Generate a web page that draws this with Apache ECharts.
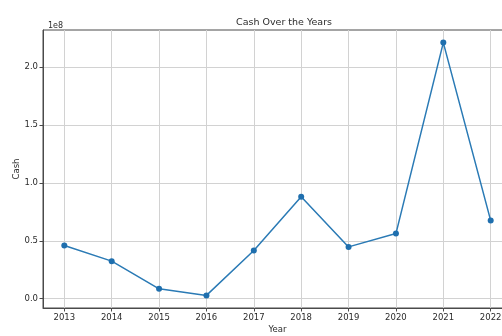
<!DOCTYPE html>
<html>
<head>
<meta charset="utf-8">
<script src="https://cdn.jsdelivr.net/npm/echarts@6/dist/echarts.min.js"></script>
<style>
  html, body { margin: 0; padding: 0; background: #fff; overflow: hidden; }
  #chart { width: 520px; height: 336px; }
</style>
</head>
<body>
<div id="chart"></div>
<script>
// Yearly cash balance
const years = [2013, 2014, 2015, 2016, 2017, 2018, 2019, 2020, 2021, 2022];
const cash = [46000000, 32500000, 8600000, 2900000, 41700000, 88200000, 44800000, 56300000, 221300000, 67500000];
const yTicks = [0, 50000000, 100000000, 150000000, 200000000];

const textColor = '#2b2b2b';
const spineColor = '#4a4a4a';
const font = 'DejaVu Sans';

const chart = echarts.init(document.getElementById('chart'), null, { renderer: 'canvas' });
chart.setOption({
  animation: false,
  backgroundColor: '#ffffff',
  title: [
    {
      text: 'Cash Over the Years',
      left: 279, top: 13, textAlign: 'center',
      textStyle: { fontFamily: font, fontSize: 9.5, fontWeight: 'normal', color: textColor }
    },
    {
      text: '1e8',
      left: 43, top: 17,
      textStyle: { fontFamily: font, fontSize: 8, fontWeight: 'normal', color: textColor }
    }
  ],
  grid: {
    left: 43, right: 8, top: 30, bottom: 28,
    outerBoundsMode: 'none', containLabel: false,
    show: true, borderColor: spineColor, borderWidth: 1, backgroundColor: 'transparent'
  },
  xAxis: {
    type: 'value',
    min: 2012.55, max: 2022.45,
    name: 'Year', nameLocation: 'middle', nameGap: 17, nameMoveOverlap: false,
    nameTextStyle: { fontFamily: font, fontSize: 8.5, color: textColor },
    axisLine: { show: true, onZero: false, lineStyle: { color: spineColor, width: 1 } },
    axisTick: { show: true, customValues: years, length: 3.5, lineStyle: { color: spineColor } },
    axisLabel: {
      customValues: years, margin: 5,
      fontFamily: font, fontSize: 8.5, color: textColor,
      formatter: v => String(Math.round(v))
    },
    splitLine: { show: true, lineStyle: { color: '#d2d2d2', width: 1 } }
  },
  yAxis: {
    type: 'value',
    min: -8000000, max: 232200000,
    name: 'Cash', nameLocation: 'middle', nameGap: 22, nameRotate: 90, nameMoveOverlap: false,
    nameTextStyle: { fontFamily: font, fontSize: 8.5, color: textColor },
    axisLine: { show: true, onZero: false, lineStyle: { color: spineColor, width: 1 } },
    axisTick: { show: true, customValues: yTicks, length: 3.5, lineStyle: { color: spineColor } },
    axisLabel: {
      customValues: yTicks, margin: 5,
      fontFamily: font, fontSize: 8.5, color: textColor,
      formatter: v => (v / 1e8).toFixed(1)
    },
    splitLine: { show: true, lineStyle: { color: '#d2d2d2', width: 1 } }
  },
  series: [{
    type: 'line',
    data: years.map((y, i) => [y, cash[i]]),
    symbol: 'circle',
    symbolSize: 6,
    lineStyle: { color: '#2a7ab5', width: 1.5 },
    itemStyle: { color: '#1f6fae' }
  }]
});
</script>
</body>
</html>
